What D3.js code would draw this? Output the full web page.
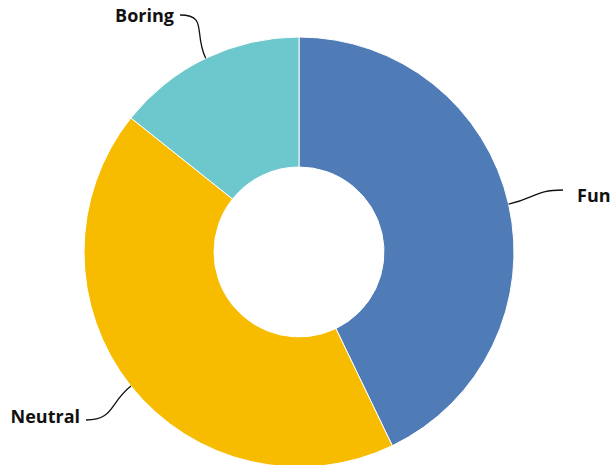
<!DOCTYPE html>
<html>
<head>
<meta charset="utf-8">
<script src="https://cdn.jsdelivr.net/npm/d3@7"></script>
<style>
  html, body { margin: 0; padding: 0; background: #fff; }
  svg { display: block; }
  .label { font-family: "Open Sans", "Noto Sans", sans-serif; font-weight: 700; font-size: 18px; fill: #111; }
</style>
</head>
<body>
<svg id="chart" width="613" height="465"></svg>
<script>
// Ratings of the activity
const categories = ["Fun", "Neutral", "Boring"];
const counts = [3, 3, 1];
const colors = ["#4f7cb6", "#f7bb00", "#6cc8cc"];

const width = 613, height = 465;
const cx = 299, cy = 252;
const outerR = 215, innerR = 85;

const svg = d3.select("#chart");
const g = svg.append("g").attr("transform", `translate(${cx},${cy})`);

const data = categories.map((c, i) => ({ category: c, value: counts[i] }));

const pie = d3.pie().value(d => d.value).sort(null);
const arc = d3.arc().innerRadius(innerR).outerRadius(outerR);
const color = d3.scaleOrdinal().domain(categories).range(colors);

const arcs = pie(data);

g.selectAll("path.slice")
  .data(arcs)
  .join("path")
  .attr("class", "slice")
  .attr("d", arc)
  .attr("fill", d => color(d.data.category))
  .attr("stroke", "#fff")
  .attr("stroke-width", 1);

// Leader lines leave the rim radially and finish horizontally by the label
const leaderEnds = {
  Fun: [264, -62],
  Neutral: [-213, 168],
  Boring: [-119, -237]
};
// Label anchor point (x at the near edge of the text, y at baseline)
const labelAnchors = {
  Fun: [278, -50],
  Neutral: [-219, 171],
  Boring: [-125, -230]
};

arcs.forEach(d => {
  const mid = (d.startAngle + d.endAngle) / 2;
  const ux = Math.sin(mid), uy = -Math.cos(mid);
  const p0 = [ux * outerR, uy * outerR];
  const end = leaderEnds[d.data.category];
  const dir = end[0] > p0[0] ? 1 : -1;
  const k = 28;
  const c1 = [p0[0] + ux * k, p0[1] + uy * k];
  const c2 = [end[0] - dir * k, end[1]];
  const path = d3.path();
  path.moveTo(p0[0], p0[1]);
  path.bezierCurveTo(c1[0], c1[1], c2[0], c2[1], end[0], end[1]);
  g.append("path")
    .attr("d", path.toString())
    .attr("fill", "none")
    .attr("stroke", "#111")
    .attr("stroke-width", 1.3);
  const a = labelAnchors[d.data.category];
  g.append("text")
    .attr("class", "label")
    .attr("x", a[0])
    .attr("y", a[1])
    .attr("text-anchor", dir > 0 ? "start" : "end")
    .text(d.data.category);
});
</script>
</body>
</html>
